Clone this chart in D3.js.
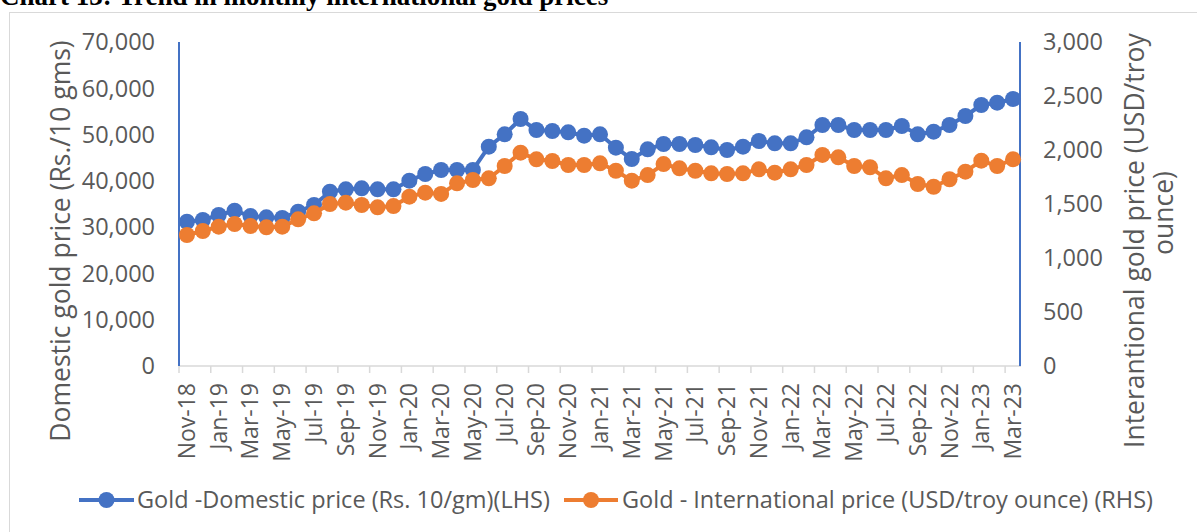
<!DOCTYPE html>
<html>
<head>
<meta charset="utf-8">
<script src="https://cdn.jsdelivr.net/npm/d3@7"></script>
<style>
  body { margin: 0; background: #fff; }
  svg text { font-family: "Open Sans", sans-serif; fill: #595959; }
</style>
</head>
<body>
<div id="root"></div>
<script>
const months = [
  'Nov-18', 'Dec-18', 'Jan-19', 'Feb-19', 'Mar-19', 'Apr-19', 'May-19', 'Jun-19', 'Jul-19', 'Aug-19',
  'Sep-19', 'Oct-19', 'Nov-19', 'Dec-19', 'Jan-20', 'Feb-20', 'Mar-20', 'Apr-20', 'May-20', 'Jun-20',
  'Jul-20', 'Aug-20', 'Sep-20', 'Oct-20', 'Nov-20', 'Dec-20', 'Jan-21', 'Feb-21', 'Mar-21', 'Apr-21',
  'May-21', 'Jun-21', 'Jul-21', 'Aug-21', 'Sep-21', 'Oct-21', 'Nov-21', 'Dec-21', 'Jan-22', 'Feb-22',
  'Mar-22', 'Apr-22', 'May-22', 'Jun-22', 'Jul-22', 'Aug-22', 'Sep-22', 'Oct-22', 'Nov-22', 'Dec-22',
  'Jan-23', 'Feb-23', 'Mar-23'
];

// Rs. per 10 gm (left axis)
const domesticPrice = [
  31170, 31540, 32620, 33550, 32400, 32120, 32000, 33340, 34780, 37660,
  38170, 38390, 38170, 38170, 40040, 41480, 42350, 42350, 42350, 47380,
  50060, 53360, 50990, 50770, 50490, 49760, 50060, 47160, 44720, 46820,
  47960, 47960, 47750, 47250, 46670, 47380, 48610, 48110, 48110, 49410,
  52070, 52070, 50990, 50990, 50990, 51850, 50060, 50620, 52070, 54010,
  56390, 56890, 57690
];

// USD per troy ounce (right axis)
const internationalPrice = [
  1213, 1250, 1290, 1315, 1296, 1284, 1290, 1358, 1414, 1500,
  1512, 1491, 1469, 1481, 1568, 1605, 1593, 1691, 1722, 1738,
  1852, 1975, 1914, 1898, 1861, 1861, 1877, 1808, 1716, 1768,
  1870, 1830, 1808, 1784, 1778, 1784, 1821, 1790, 1821, 1861,
  1954, 1932, 1852, 1840, 1738, 1768, 1685, 1660, 1729, 1799,
  1901, 1852, 1914
];

const leftTicks = [0, 10000, 20000, 30000, 40000, 50000, 60000, 70000];
const rightTicks = [0, 500, 1000, 1500, 2000, 2500, 3000];

const seriesNames = [
  'Gold -Domestic price (Rs. 10/gm)(LHS)',
  'Gold - International price (USD/troy ounce) (RHS)'
];
const colors = ['#4472C4', '#ED7D31'];

const width = 1197;
const height = 532;
const plotLeft = 179;
const plotRight = 1021;
const plotTop = 42;
const plotBottom = 366;

const svg = d3.select('#root')
  .append('svg')
  .attr('width', width)
  .attr('height', height);

// title, mostly cut off at the top of the crop
svg.append('text')
  .attr('x', 0)
  .attr('y', 5)
  .style('font-family', '"Liberation Serif", serif')
  .style('font-weight', 'bold')
  .style('font-size', '27px')
  .style('fill', '#000')
  .text('Chart 13: Trend in monthly international gold prices');

// chart area border
svg.append('rect')
  .attr('x', 9.5)
  .attr('y', 12.5)
  .attr('width', 1250)
  .attr('height', 600)
  .attr('fill', 'none')
  .attr('stroke', '#d9d9d9')
  .attr('stroke-width', 1);

const x = d3.scaleBand()
  .domain(months)
  .range([plotLeft, plotRight])
  .padding(0);

const yLeft = d3.scaleLinear()
  .domain([0, 70000])
  .range([plotBottom, plotTop]);

const yRight = d3.scaleLinear()
  .domain([0, 3000])
  .range([plotBottom, plotTop]);

const fmt = d3.format(',');
const cx = (m) => x(m) + x.bandwidth() / 2;
const labelled = months.filter((_d, i) => i % 2 === 0);

// category axis
svg.append('line')
  .attr('x1', plotLeft)
  .attr('x2', plotRight)
  .attr('y1', plotBottom)
  .attr('y2', plotBottom)
  .style('stroke', '#d9d9d9')
  .style('stroke-width', 1.5);

svg.selectAll('.xtick')
  .data(labelled)
  .enter()
  .append('line')
  .attr('class', 'xtick')
  .attr('x1', (d) => x(d))
  .attr('x2', (d) => x(d))
  .attr('y1', plotBottom)
  .attr('y2', plotBottom + 7)
  .style('stroke', '#d9d9d9')
  .style('stroke-width', 1.5);

svg.selectAll('.xlabel')
  .data(labelled)
  .enter()
  .append('text')
  .attr('class', 'xlabel')
  .attr('transform', (d) => `translate(${ cx(d) + 8 },${ plotBottom + 17 }) rotate(-90)`)
  .attr('text-anchor', 'end')
  .style('font-size', '23px')
  .text((d) => d);

// left axis
svg.append('line')
  .attr('x1', plotLeft)
  .attr('x2', plotLeft)
  .attr('y1', plotTop)
  .attr('y2', plotBottom)
  .style('stroke', '#4472C4')
  .style('stroke-width', 2);

svg.selectAll('.ylabel')
  .data(leftTicks)
  .enter()
  .append('text')
  .attr('class', 'ylabel')
  .attr('x', 155)
  .attr('y', (d) => yLeft(d))
  .attr('dy', '0.35em')
  .attr('text-anchor', 'end')
  .style('font-size', '23.5px')
  .text((d) => fmt(d));

// right axis
svg.append('line')
  .attr('x1', plotRight - 1)
  .attr('x2', plotRight - 1)
  .attr('y1', plotTop)
  .attr('y2', plotBottom)
  .style('stroke', '#4472C4')
  .style('stroke-width', 2);

svg.selectAll('.rlabel')
  .data(rightTicks)
  .enter()
  .append('text')
  .attr('class', 'rlabel')
  .attr('x', 1043)
  .attr('y', (d) => yRight(d))
  .attr('dy', '0.35em')
  .style('font-size', '23.5px')
  .text((d) => fmt(d));

// axis titles
svg.append('text')
  .attr('transform', 'translate(70,241) rotate(-90)')
  .attr('text-anchor', 'middle')
  .style('font-size', '26.5px')
  .text('Domestic gold price (Rs./10 gms)');

svg.append('text')
  .attr('transform', 'translate(1144,448) rotate(-90)')
  .attr('text-anchor', 'start')
  .style('font-size', '26.5px')
  .text('Interantional gold price (USD/troy');

svg.append('text')
  .attr('transform', 'translate(1173,213) rotate(-90)')
  .attr('text-anchor', 'middle')
  .style('font-size', '26.5px')
  .text('ounce)');

// series
const series = [
  { values: domesticPrice, scale: yLeft },
  { values: internationalPrice, scale: yRight }
];

series.forEach((s, k) => {
  const line = d3.line()
    .x((_d, i) => cx(months[i]))
    .y((d) => s.scale(d));

  svg.append('path')
    .datum(s.values)
    .attr('d', line)
    .attr('fill', 'none')
    .style('stroke', colors[k])
    .style('stroke-width', 4)
    .style('stroke-linejoin', 'round');

  svg.selectAll(`.dot${ k }`)
    .data(s.values)
    .enter()
    .append('circle')
    .attr('class', `dot${ k }`)
    .attr('cx', (_d, i) => cx(months[i]))
    .attr('cy', (d) => s.scale(d))
    .attr('r', 8)
    .style('fill', colors[k]);
});

// legend
const legendItems = [
  { x1: 79, x2: 134, tx: 137 },
  { x1: 564, x2: 618, tx: 622 }
];
const legendY = 500;

legendItems.forEach((item, k) => {
  svg.append('line')
    .attr('x1', item.x1)
    .attr('x2', item.x2)
    .attr('y1', legendY)
    .attr('y2', legendY)
    .style('stroke', colors[k])
    .style('stroke-width', 4);
  svg.append('circle')
    .attr('cx', (item.x1 + item.x2) / 2)
    .attr('cy', legendY)
    .attr('r', 8)
    .style('fill', colors[k]);
  svg.append('text')
    .attr('x', item.tx)
    .attr('y', legendY)
    .attr('dy', '0.35em')
    .style('font-size', '23.5px')
    .text(seriesNames[k]);
});
</script>
</body>
</html>
